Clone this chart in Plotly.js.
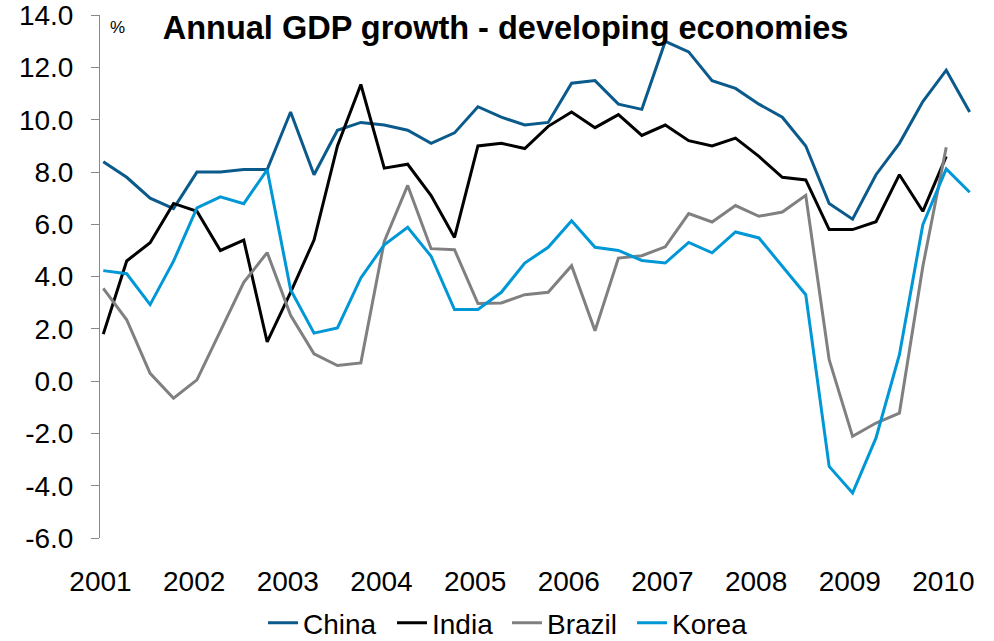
<!DOCTYPE html>
<html>
<head>
<meta charset="utf-8">
<script src="https://cdn.plot.ly/plotly-3.0.1.min.js"></script>
<style>html,body{margin:0;padding:0;background:#fff;}#chart{width:994px;height:641px;}</style>
</head>
<body>
<div id="chart"></div>
<script>
// Quarterly, 2001Q1 .. 2010Q2 (year-on-year %)
var yearLabels = ["2001","2002","2003","2004","2005","2006","2007","2008","2009","2010"];
var yTicks = [-6, -4, -2, 0, 2, 4, 6, 8, 10, 12, 14];
var china = [8.4, 7.8, 7.0, 6.6, 8.0, 8.0, 8.1, 8.1, 10.3, 7.9, 9.6, 9.9, 9.8, 9.6, 9.1, 9.5,
             10.5, 10.1, 9.8, 9.9, 11.4, 11.5, 10.6, 10.4, 13.0, 12.6, 11.5, 11.2, 10.6, 10.1, 9.0, 6.8,
             6.2, 7.9, 9.1, 10.7, 11.9, 10.3];
var india = [1.8, 4.6, 5.3, 6.8, 6.5, 5.0, 5.4, 1.5, 3.4, 5.4, 9.0, 11.35, 8.15, 8.3, 7.1, 5.5,
             9.0, 9.1, 8.9, 9.75, 10.3, 9.7, 10.2, 9.4, 9.8, 9.2, 9.0, 9.3, 8.6, 7.8, 7.7, 5.8,
             5.8, 6.1, 7.9, 6.5, 8.6];
var brazil = [3.55, 2.35, 0.3, -0.65, 0.05, 1.9, 3.78, 4.92, 2.52, 1.05, 0.6, 0.7, 5.35, 7.49, 5.07, 5.03,
              2.97, 2.99, 3.31, 3.4, 4.42, 1.93, 4.71, 4.8, 5.14, 6.41, 6.09, 6.72, 6.31, 6.47, 7.11, 0.82,
              -2.11, -1.6, -1.22, 4.39, 8.95];
var korea = [4.23, 4.11, 2.93, 4.59, 6.63, 7.05, 6.79, 8.09, 3.5, 1.84, 2.04, 3.95, 5.22, 5.89, 4.78, 2.74,
             2.74, 3.4, 4.52, 5.12, 6.14, 5.12, 5.0, 4.62, 4.52, 5.31, 4.91, 5.71, 5.48, 4.39, 3.31, -3.26,
             -4.28, -2.17, 1.01, 5.99, 8.12, 7.23];

function idx(n){ var a=[]; for(var i=0;i<n;i++) a.push(i); return a; }
var tickPos = yearLabels.map(function(_,k){ return 4*k - 0.12; });

var FONT = "Liberation Sans, Arial, sans-serif";
function tr(name, ys, color, lg){
  return {type:'scatter', mode:'lines', name:name, x:idx(ys.length), y:ys, legend:lg,
          line:{color:color, width:3}, hoverinfo:'skip'};
}
var data = [
  tr('China', china, '#0B5A8C', 'legend'),
  tr('India', india, '#000000', 'legend2'),
  tr('Brazil', brazil, '#808080', 'legend3'),
  tr('Korea', korea, '#0097D7', 'legend4')
];
function lg(px){
  return {orientation:'h', xref:'container', x:(px-5)/994, xanchor:'left',
          yref:'container', y:0.028, yanchor:'middle',
          font:{family:FONT, size:28, color:'#000'}, bgcolor:'rgba(0,0,0,0)', borderwidth:0};
}
var xr = [-0.14, 37.1];
var layout = {
  width:994, height:641,
  margin:{l:100, r:22, t:15, b:103, pad:0},
  paper_bgcolor:'#fff', plot_bgcolor:'#fff',
  font:{family:FONT, color:'#000', size:28},
  showlegend:true,
  title:{text:'<b>Annual GDP growth - developing economies</b>', font:{family:FONT, size:32.5, color:'#000'},
         xref:'container', x:0.5086, xanchor:'center', yref:'container', y:0.957, yanchor:'middle'},
  xaxis:{range:xr, tickmode:'array', tickvals:tickPos, ticktext:yearLabels,
         showline:false, ticks:'', showgrid:false, zeroline:false,
         tickfont:{family:FONT, size:28, color:'#000'}, ticklabelstandoff:24},
  xaxis2:{range:xr, overlaying:'x', anchor:'free', position:0.3, side:'bottom',
          tickmode:'array', tickvals:tickPos, showticklabels:false,
          showline:true, linecolor:'#888888', linewidth:1,
          ticks:'outside', ticklen:8, tickcolor:'#888888', tickwidth:1,
          showgrid:false, zeroline:false},
  yaxis:{range:[-6,14.01], tickmode:'array', tickvals:yTicks,
         ticktext:yTicks.map(function(v){ return v.toFixed(1); }),
         ticklabeloverflow:'allow',
         showline:true, linecolor:'#888888', linewidth:1,
         ticks:'outside', ticklen:8, tickcolor:'#888888', tickwidth:1,
         showgrid:false, zeroline:false,
         tickfont:{family:FONT, size:28, color:'#000'}, ticklabelstandoff:12},
  legend:lg(268), legend2:lg(397), legend3:lg(512), legend4:lg(637),
  annotations:[{text:'%', xref:'paper', yref:'paper', x:0.0195, y:0.977, showarrow:false,
                font:{family:FONT, size:17, color:'#000'}, xanchor:'center', yanchor:'middle'}]
};
Plotly.newPlot('chart', data, layout, {staticPlot:true, displayModeBar:false});
</script>
</body>
</html>
